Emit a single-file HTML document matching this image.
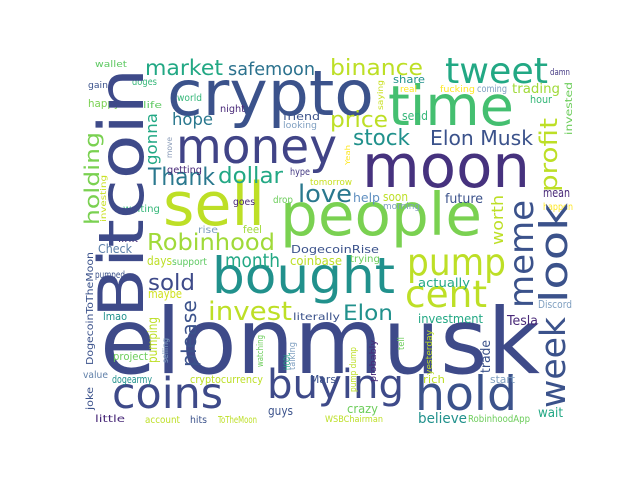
<!DOCTYPE html>
<html>
<head>
<meta charset="utf-8">
<style>
  html, body { margin: 0; padding: 0; background: #fff; }
  svg { display: block; }
  text { font-family: "DejaVu Sans", "Liberation Sans", sans-serif; }
</style>
</head>
<body>
<svg id="cloud" width="640" height="480" viewBox="0 0 640 480" xmlns="http://www.w3.org/2000/svg">
  <rect x="0" y="0" width="640" height="480" fill="#ffffff"/>
</svg>
<script>
// word, x, y, font size, colour, vertical flag, text length
const words = [
  ["elonmusk",100,373,91,"#3e4a89",0,440],
  ["moon",362,187,60,"#46327e",0,168],
  ["crypto",167,115,62,"#3b528b",0,207],
  ["money",176,163,48,"#414487",0,161],
  ["time",388,125,55,"#44bf70",0,126],
  ["tweet",445,83,36,"#22a884",0,103],
  ["people",280,235,59,"#7ad151",0,202],
  ["sell",163,225,60,"#bddf26",0,102],
  ["bought",212,293,50,"#21918c",0,183],
  ["buying",267,398,40,"#3e4a89",0,137],
  ["coins",112,408,43,"#3e4a89",0,111],
  ["hold",415,410,47,"#3b528b",0,102],
  ["pump",407,275,37,"#bddf26",0,99],
  ["cent",405,307,37,"#bddf26",0,82],
  ["Robinhood",147,250,23,"#a0da39",0,128],
  ["invest",208,320,26,"#bddf26",0,84],
  ["Thank",148,185,24,"#2a788e",0,67],
  ["dollar",218,183,22,"#22a884",0,65],
  ["love",298,202,24,"#2a788e",0,54],
  ["market",145,75,21,"#22a884",0,78],
  ["safemoon",228,75,18,"#2c728e",0,87],
  ["binance",330,75,22,"#bddf26",0,93],
  ["price",330,127,22,"#bddf26",0,58],
  ["stock",353,145,22,"#21918c",0,57],
  ["Elon Musk",430,145,20,"#3b528b",0,103],
  ["Elon",343,320,21,"#21918c",0,50],
  ["month",225,267,19,"#22a884",0,55],
  ["sold",148,290,22,"#3e4a89",0,47],
  ["hope",172,125,17,"#2a788e",0,41],
  ["wallet",95,67,9,"#5ec962",0,32],
  ["gain",88,88,9,"#3b528b",0,20],
  ["doges",132,85,10,"#35b779",0,25],
  ["happy",88,107,11,"#7ad151",0,32],
  ["world",177,101,10,"#35b779",0,25],
  ["life",143,108,9,"#5ec962",0,19],
  ["night",220,112,10,"#482878",0,25],
  ["friend",283,120,11,"#3b528b",0,37],
  ["looking",283,128,9,"#7f9fc0",0,34],
  ["getting",167,173,10,"#482878",0,35],
  ["hype",290,175,10,"#443983",0,20],
  ["tomorrow",310,185,9,"#c8e020",0,42],
  ["waiting",123,212,10,"#35b779",0,37],
  ["goes",233,205,10,"#482878",0,22],
  ["drop",273,203,10,"#6ccd5a",0,20],
  ["rise",198,233,10,"#7f9fc0",0,20],
  ["feel",243,233,11,"#a0da39",0,19],
  ["link",118,242,10,"#482878",0,20],
  ["share",393,83,11,"#21918c",0,32],
  ["real",400,92,9,"#fde725",0,17],
  ["fucking",440,92,9,"#fde725",0,35],
  ["coming",477,92,10,"#7f9fc0",0,30],
  ["trading",512,93,13,"#a0da39",0,48],
  ["damn",550,75,9,"#443983",0,20],
  ["hour",530,103,11,"#35b779",0,22],
  ["send",402,120,12,"#35b779",0,26],
  ["mean",543,197,12,"#482878",0,27],
  ["happen",543,210,10,"#fde725",0,30],
  ["help",353,202,12,"#5f8fc0",0,27],
  ["soon",383,201,12,"#bddf26",0,25],
  ["morning",383,209,9,"#7f9fc0",0,37],
  ["future",445,203,13,"#3b528b",0,38],
  ["Check",98,253,12,"#5b7fa8",0,34],
  ["pumped",95,278,10,"#3b528b",0,30],
  ["days",147,265,12,"#bddf26",0,25],
  ["support",172,265,10,"#5ec962",0,35],
  ["maybe",148,298,12,"#d0e11c",0,34],
  ["lmao",103,320,11,"#21918c",0,24],
  ["project",113,360,11,"#6ccd5a",0,35],
  ["value",83,378,10,"#5f7fa8",0,25],
  ["dogearmy",112,383,11,"#21918c",0,40],
  ["cryptocurrency",190,383,11,"#bddf26",0,73],
  ["little",95,422,10,"#482878",0,30],
  ["account",145,423,10,"#bddf26",0,35],
  ["hits",190,423,10,"#3b528b",0,17],
  ["ToTheMoon",218,423,10,"#bddf26",0,39],
  ["guys",268,415,12,"#3b528b",0,25],
  ["literally",293,320,10,"#3b528b",0,47],
  ["coinbase",290,265,12,"#bddf26",0,52],
  ["DogecoinRise",291,253,11,"#3b528b",0,88],
  ["Mars",310,383,11,"#3b528b",0,26],
  ["crazy",347,413,12,"#6ccd5a",0,31],
  ["WSBChairman",325,422,9,"#bddf26",0,58],
  ["trying",350,262,10,"#6ccd5a",0,30],
  ["actually",418,287,12,"#22a884",0,52],
  ["investment",418,323,12,"#22a884",0,65],
  ["Tesla",507,325,13,"#482878",0,31],
  ["Discord",538,308,11,"#7f9fc0",0,34],
  ["rich",423,383,11,"#bddf26",0,22],
  ["start",490,383,11,"#7f9fc0",0,25],
  ["believe",418,423,14,"#21918c",0,49],
  ["RobinhoodApp",468,422,10,"#6ccd5a",0,62],
  ["wait",538,417,13,"#22a884",0,25],
  ["Bitcoin",143,318,62,"#3e4a89",1,250],
  ["meme",533,308,34,"#3b528b",1,108],
  ["look",567,303,38,"#3b528b",1,100],
  ["week",565,408,35,"#3b528b",1,91],
  ["profit",557,192,24,"#bddf26",1,74],
  ["worth",503,245,16,"#bddf26",1,50],
  ["holding",99,225,20,"#7ad151",1,93],
  ["gonna",157,165,16,"#22a884",1,52],
  ["please",196,367,20,"#3b528b",1,67],
  ["pumping",157,363,13,"#bddf26",1,46],
  ["selling",168,363,8,"#7f9fc0",1,25],
  ["DogecoinToTheMoon",93,365,10,"#3b528b",1,113],
  ["joke",93,410,10,"#3b528b",1,23],
  ["investing",106,222,8,"#c8e020",1,47],
  ["move",172,158,8,"#8a9cb8",1,21],
  ["saying",383,110,8,"#c8e020",1,30],
  ["invested",572,135,10,"#6ccd5a",1,53],
  ["Yeah",350,165,7,"#fde725",1,20],
  ["watching",263,367,9,"#6ccd5a",1,32],
  ["HODL",290,370,9,"#22a884",1,17],
  ["talking",295,370,9,"#7f9fc0",1,28],
  ["pump dump",356,392,9,"#bddf26",1,45],
  ["probably",376,382,9,"#482878",1,42],
  ["tell",404,350,9,"#6ccd5a",1,13],
  ["yesterday",432,375,9,"#bddf26",1,45],
  ["trade",490,373,13,"#3b528b",1,33]
];

const svg = document.getElementById('cloud');
const NS = 'http://www.w3.org/2000/svg';
words.forEach(function (w) {
  const t = document.createElementNS(NS, 'text');
  
  
  t.setAttribute('font-size', w[3]);
  t.setAttribute('fill', w[4]);
  if (w[5]) {
    t.setAttribute('transform', 'translate(' + w[1] + ',' + w[2] + ') rotate(-90)');
    t.setAttribute('x', 0);
    t.setAttribute('y', 0);
  } else {
    t.setAttribute('x', w[1]);
    t.setAttribute('y', w[2]);
  }
  if (w[6]) {
    t.setAttribute('textLength', w[6]);
    t.setAttribute('lengthAdjust', 'spacingAndGlyphs');
  }
  t.textContent = w[0];
  svg.appendChild(t);
});
</script>
</body>
</html>
